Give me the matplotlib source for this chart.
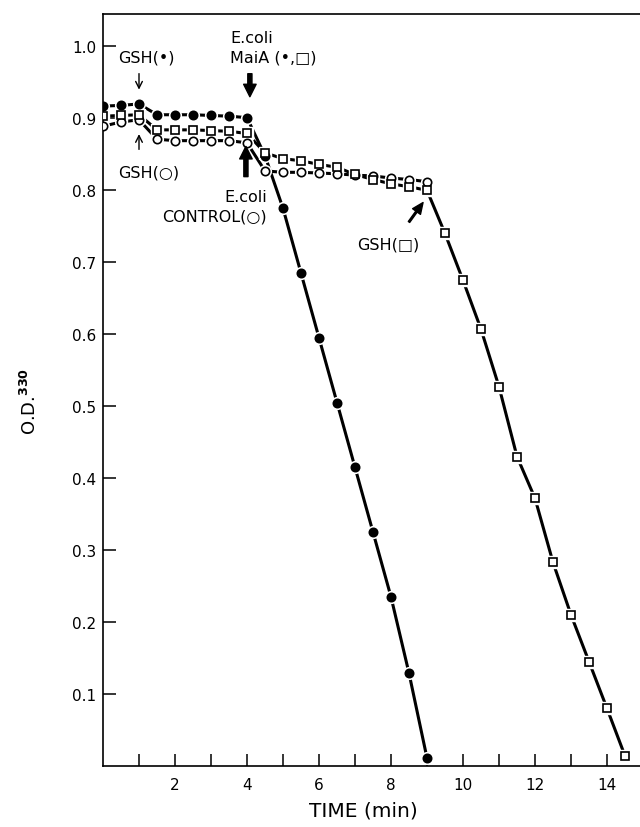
import matplotlib
matplotlib.use('Agg')
import matplotlib.pyplot as plt

# Time points (min) and O.D.330 readings for each trace
time_filled = [0, 0.5, 1.0, 1.5, 2.0, 2.5, 3.0, 3.5, 4.0, 4.5, 5.0, 5.5, 6.0, 6.5, 7.0, 7.5, 8.0, 8.5, 9.0]
od_filled = [0.917, 0.918, 0.920, 0.905, 0.905, 0.905, 0.904, 0.903, 0.901, 0.848, 0.775,
             0.685, 0.595, 0.505, 0.415, 0.325, 0.235, 0.129, 0.011]

time_open = [0, 0.5, 1.0, 1.5, 2.0, 2.5, 3.0, 3.5, 4.0, 4.5, 5.0, 5.5, 6.0, 6.5, 7.0, 7.5, 8.0, 8.5, 9.0]
od_open = [0.889, 0.895, 0.898, 0.871, 0.869, 0.869, 0.869, 0.869, 0.866, 0.827, 0.825,
           0.825, 0.824, 0.823, 0.821, 0.820, 0.817, 0.815, 0.812]

time_square = [0, 0.5, 1.0, 1.5, 2.0, 2.5, 3.0, 3.5, 4.0, 4.5, 5.0, 5.5, 6.0, 6.5, 7.0, 7.5, 8.0,
               8.5, 9.0, 9.5, 10.0, 10.5, 11.0, 11.5, 12.0, 12.5, 13.0, 13.5, 14.0, 14.5]
od_square = [0.903, 0.904, 0.905, 0.884, 0.884, 0.884, 0.883, 0.882, 0.879, 0.852, 0.844,
             0.841, 0.836, 0.832, 0.822, 0.815, 0.809, 0.805, 0.800, 0.740, 0.675, 0.607,
             0.527, 0.430, 0.372, 0.283, 0.210, 0.145, 0.080, 0.014]

x_ticks = list(range(1, 15))
x_labels = ['' if t % 2 else str(t) for t in x_ticks]
y_ticks = [0.1, 0.2, 0.3, 0.4, 0.5, 0.6, 0.7, 0.8, 0.9, 1.0]
y_labels = ['0.1', '0.2', '0.3', '0.4', '0.5', '0.6', '0.7', '0.8', '0.9', '1.0']

plt.rcParams['font.family'] = ['DejaVu Sans']

fig = plt.figure(figsize=(6.4, 8.28), dpi=100)
ax = fig.add_axes([103 / 640, 1 - 767 / 828, 1 - 103 / 640, (767 - 15) / 828])

series = [
    (time_filled, od_filled, 'o', 'black', 6.0),
    (time_open, od_open, 'o', 'white', 6.0),
    (time_square, od_square, 's', 'white', 6.0),
]

# lines first, then white halos so the line stops short of each marker
for t, od, m, fc, ms in series:
    ax.plot(t, od, '-', color='black', lw=2.2, zorder=1, solid_capstyle='butt')
for t, od, m, fc, ms in series:
    ax.plot(t, od, m, ls='none', ms=ms + 2.5, mfc='white', mec='white', zorder=2)
for t, od, m, fc, ms in series:
    ax.plot(t, od, m, ls='none', ms=ms, mfc=fc, mec='black', mew=1.2, zorder=3)

ax.set_xlim(0, (640 - 103) / 36)
ax.set_ylim(0, 1.045)
ax.set_xticks(x_ticks)
ax.set_xticklabels(x_labels)
ax.set_yticks(y_ticks)
ax.set_yticklabels(y_labels)
ax.tick_params(axis='both', direction='in', length=9, width=1.1, labelsize=11)
ax.tick_params(axis='x', pad=8)
ax.tick_params(axis='y', pad=5)
ax.spines['right'].set_visible(False)
for s in ['left', 'bottom', 'top']:
    ax.spines[s].set_linewidth(1.2)

fig.text(363 / 640, 1 - 811 / 828, 'TIME (min)', ha='center', va='center', fontsize=14.5)
fig.text(30 / 640, 1 - 402 / 828, r'O.D.$^{\mathbf{330}}$', ha='center', va='center',
         rotation=90, fontsize=13)

# annotations
fs = 11.5
ax.text(0.42, 0.985, 'GSH(•)', ha='left', va='center', fontsize=fs)
ax.annotate('', xy=(1.0, 0.936), xytext=(1.0, 0.966),
            arrowprops=dict(arrowstyle='->', lw=1.0, color='black', mutation_scale=12))
ax.text(0.42, 0.826, 'GSH(○)', ha='left', va='center', fontsize=fs)
ax.annotate('', xy=(1.0, 0.882), xytext=(1.0, 0.853),
            arrowprops=dict(arrowstyle='->', lw=1.0, color='black', mutation_scale=12))

ax.text(3.53, 1.012, 'E.coli', ha='left', va='center', fontsize=fs)
ax.text(3.53, 0.985, 'MaiA (•,□)', ha='left', va='center', fontsize=fs)
ax.annotate('', xy=(4.08, 0.930), xytext=(4.08, 0.962),
            arrowprops=dict(facecolor='black', edgecolor='black', width=3, headwidth=9,
                            headlength=9, shrink=0))

ax.text(4.56, 0.792, 'E.coli', ha='right', va='center', fontsize=fs)
ax.text(4.56, 0.764, 'CONTROL(○)', ha='right', va='center', fontsize=fs)
ax.annotate('', xy=(3.97, 0.861), xytext=(3.97, 0.819),
            arrowprops=dict(facecolor='black', edgecolor='black', width=3, headwidth=9,
                            headlength=9, shrink=0))

ax.text(7.06, 0.725, 'GSH(□)', ha='left', va='center', fontsize=fs)
ax.annotate('', xy=(8.89, 0.783), xytext=(8.5, 0.756),
            arrowprops=dict(facecolor='black', edgecolor='black', width=1.2, headwidth=7,
                            headlength=8, shrink=0))

fig.savefig('out.png', dpi=100)
